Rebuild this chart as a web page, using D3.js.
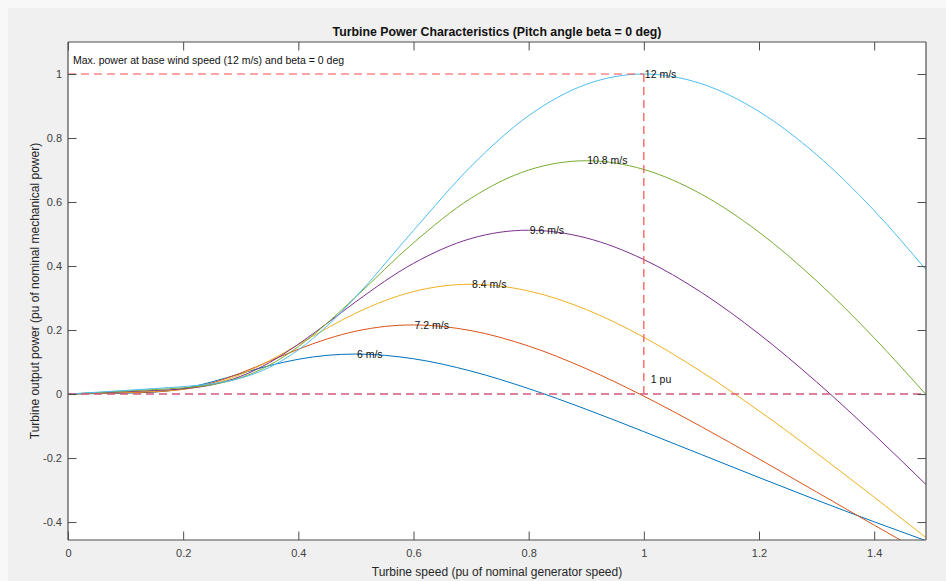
<!DOCTYPE html>
<html>
<head>
<meta charset="utf-8">
<script src="https://cdn.jsdelivr.net/npm/d3@7"></script>
<style>
  html, body { margin: 0; padding: 0; background: #f8f8f8; }
  svg { display: block; font-family: "Liberation Sans", Arial, Helvetica, sans-serif; }
</style>
</head>
<body>
<svg id="chart" width="946" height="581"></svg>
<script>
// Turbine speed samples (pu of nominal generator speed)
const speed = [0, 0.05, 0.1, 0.15, 0.2, 0.25, 0.3, 0.35, 0.4, 0.45, 0.5,
               0.6, 0.7, 0.8, 0.9, 1.0, 1.1, 1.2, 1.3, 1.4, 1.49];

// Output power (pu of nominal mechanical power) per wind speed
const p6 = [0, 0.0014, 0.0029, 0.0062, 0.0173, 0.0380, 0.0639, 0.0890, 0.1087, 0.1210, 0.1250,
            0.1103, 0.0717, 0.0169, -0.0477, -0.1174, -0.1891, -0.2608, -0.3311, -0.3992, -0.4583];
const p72 = [0, 0.0021, 0.0041, 0.0069, 0.0152, 0.0347, 0.0657, 0.1028, 0.1400, 0.1723, 0.1965,
             0.2160, 0.1982, 0.1499, 0.0792, -0.0066, -0.1020, -0.2028, -0.3060, -0.4095, -0.5016];
const p84 = [0, 0.0028, 0.0056, 0.0087, 0.0149, 0.0309, 0.0612, 0.1043, 0.1546, 0.2060, 0.2530,
             0.3203, 0.3430, 0.3220, 0.2641, 0.1774, 0.0697, -0.0526, -0.1845, -0.3221, -0.4484];
const p96 = [0, 0.0037, 0.0073, 0.0111, 0.0164, 0.0289, 0.0554, 0.0985, 0.1556, 0.2211, 0.2887,
             0.4084, 0.4861, 0.5120, 0.4878, 0.4203, 0.3176, 0.1878, 0.0378, -0.1266, -0.2829];
const p108 = [0, 0.0046, 0.0093, 0.0140, 0.0194, 0.0294, 0.0512, 0.0905, 0.1484, 0.2216, 0.3042,
              0.4726, 0.6121, 0.6999, 0.7290, 0.7017, 0.6245, 0.5058, 0.3536, 0.1754, -0.0018];
const p12 = [0, 0.0057, 0.0115, 0.0172, 0.0233, 0.0321, 0.0498, 0.0836, 0.1380, 0.2127, 0.3040,
             0.5113, 0.7117, 0.8699, 0.9677, 1.0000, 0.9696, 0.8827, 0.7479, 0.5733, 0.3886];

const windLabels = ["6 m/s", "7.2 m/s", "8.4 m/s", "9.6 m/s", "10.8 m/s", "12 m/s"];
const seriesValues = [p6, p72, p84, p96, p108, p12];
const seriesColors = ["#0072BD", "#D95319", "#EDB120", "#7E2F8E", "#77AC30", "#4DBEEE"];
// Peak of each curve (speed, power), where its label is placed
const peakSpeed = [0.5, 0.6, 0.7, 0.8, 0.9, 1.0];
const peakPower = [0.125, 0.216, 0.343, 0.512, 0.729, 1.0];

const xTicks = [0, 0.2, 0.4, 0.6, 0.8, 1, 1.2, 1.4];
const yTicks = [-0.4, -0.2, 0, 0.2, 0.4, 0.6, 0.8, 1];
const xDomain = [0, 1.49];
const yDomain = [-0.456, 1.1];

const svg = d3.select("#chart");
const W = 946, H = 581;
const mLeft = 68, mRight = 926, mTop = 42, mBottom = 540;

// figure background
svg.append("rect").attr("x", 8).attr("y", 8).attr("width", W - 8).attr("height", H - 8)
  .attr("fill", "#f0f0f0");

const x = d3.scaleLinear().domain(xDomain).range([mLeft, mRight]);
const y = d3.scaleLinear().domain(yDomain).range([mBottom, mTop]);

// plot area
svg.append("rect").attr("x", mLeft).attr("y", mTop)
  .attr("width", mRight - mLeft).attr("height", mBottom - mTop).attr("fill", "#ffffff");

svg.append("clipPath").attr("id", "plotClip")
  .append("rect").attr("x", mLeft).attr("y", mTop)
  .attr("width", mRight - mLeft).attr("height", mBottom - mTop);

const plot = svg.append("g").attr("clip-path", "url(#plotClip)");

// power curves
const line = d3.line()
  .x(d => x(d[0]))
  .y(d => y(d[1]))
  .curve(d3.curveMonotoneX);

seriesValues.forEach((vals, i) => {
  const pts = speed.map((s, j) => [s, vals[j]]);
  plot.append("path")
    .attr("d", line(pts))
    .attr("fill", "none")
    .attr("stroke", seriesColors[i])
    .attr("stroke-width", 1);
});

// reference lines: 1 pu power up to 1 pu speed, and zero power
const refColor = "#ff4d4d";
plot.append("line")
  .attr("x1", x(0)).attr("x2", x(1)).attr("y1", y(1)).attr("y2", y(1))
  .attr("stroke", refColor).attr("stroke-width", 1.2).attr("stroke-dasharray", "8,5");
plot.append("line")
  .attr("x1", x(1)).attr("x2", x(1)).attr("y1", y(1)).attr("y2", y(0))
  .attr("stroke", refColor).attr("stroke-width", 1.2).attr("stroke-dasharray", "8,5");
plot.append("line")
  .attr("x1", x(0)).attr("x2", x(xDomain[1])).attr("y1", y(0)).attr("y2", y(0))
  .attr("stroke", "#d4587a").attr("stroke-width", 1.4).attr("stroke-dasharray", "8,5");

// curve labels at the peaks
windLabels.forEach((t, i) => {
  svg.append("text")
    .attr("x", x(peakSpeed[i]) + 1)
    .attr("y", y(peakPower[i]))
    .attr("dy", "0.35em")
    .attr("font-size", 10.5)
    .attr("fill", "#111")
    .text(t);
});

svg.append("text")
  .attr("x", mLeft + 5).attr("y", 60).attr("dy", "0.35em")
  .attr("font-size", 10.5).attr("fill", "#111")
  .text("Max. power at base wind speed (12 m/s) and beta = 0 deg");

svg.append("text")
  .attr("x", x(1) + 7).attr("y", y(0) - 15).attr("dy", "0.35em")
  .attr("font-size", 10.5).attr("fill", "#111")
  .text("1 pu");

// axes with inward ticks on all four sides
const axisColor = "#4d4d4d";
const tickLen = 8.5;
const fmt = d => String(d);

const gxB = svg.append("g").attr("transform", `translate(0,${mBottom})`)
  .call(d3.axisBottom(x).tickValues(xTicks).tickSize(-tickLen).tickPadding(9)
    .tickFormat(fmt));
const gxT = svg.append("g").attr("transform", `translate(0,${mTop})`)
  .call(d3.axisTop(x).tickValues(xTicks).tickSize(-tickLen).tickFormat(""));
const gyL = svg.append("g").attr("transform", `translate(${mLeft},0)`)
  .call(d3.axisLeft(y).tickValues(yTicks).tickSize(-tickLen).tickPadding(6)
    .tickFormat(fmt));
const gyR = svg.append("g").attr("transform", `translate(${mRight},0)`)
  .call(d3.axisRight(y).tickValues(yTicks).tickSize(-tickLen).tickFormat(""));

// plain box edges without end caps
gxB.select(".domain").attr("d", `M${mLeft},0H${mRight}`);
gxT.select(".domain").attr("d", `M${mLeft},0H${mRight}`);
gyL.select(".domain").attr("d", `M0,${mTop}V${mBottom}`);
gyR.select(".domain").attr("d", `M0,${mTop}V${mBottom}`);

[gxB, gxT, gyL, gyR].forEach(g => {
  g.select(".domain").attr("stroke", axisColor).attr("stroke-width", 1.2);
  g.selectAll(".tick line").attr("stroke", axisColor).attr("stroke-width", 1);
  g.selectAll(".tick text").attr("fill", "#404040").attr("font-size", 11)
    .attr("font-family", "\"Liberation Sans\", Arial, sans-serif");
});

// titles
svg.append("text")
  .attr("x", (mLeft + mRight) / 2).attr("y", 32).attr("dy", "0.35em")
  .attr("text-anchor", "middle").attr("font-size", 12.3).attr("font-weight", "bold")
  .attr("fill", "#111")
  .text("Turbine Power Characteristics (Pitch angle beta = 0 deg)");

svg.append("text")
  .attr("x", (mLeft + mRight) / 2).attr("y", 572).attr("dy", "0.35em")
  .attr("text-anchor", "middle").attr("font-size", 12).attr("fill", "#262626")
  .text("Turbine speed (pu of nominal generator speed)");

svg.append("text")
  .attr("transform", `translate(35,${(mTop + mBottom) / 2}) rotate(-90)`)
  .attr("dy", "0.35em")
  .attr("text-anchor", "middle").attr("font-size", 12).attr("fill", "#262626")
  .text("Turbine output power (pu of nominal mechanical power)");
</script>
</body>
</html>
